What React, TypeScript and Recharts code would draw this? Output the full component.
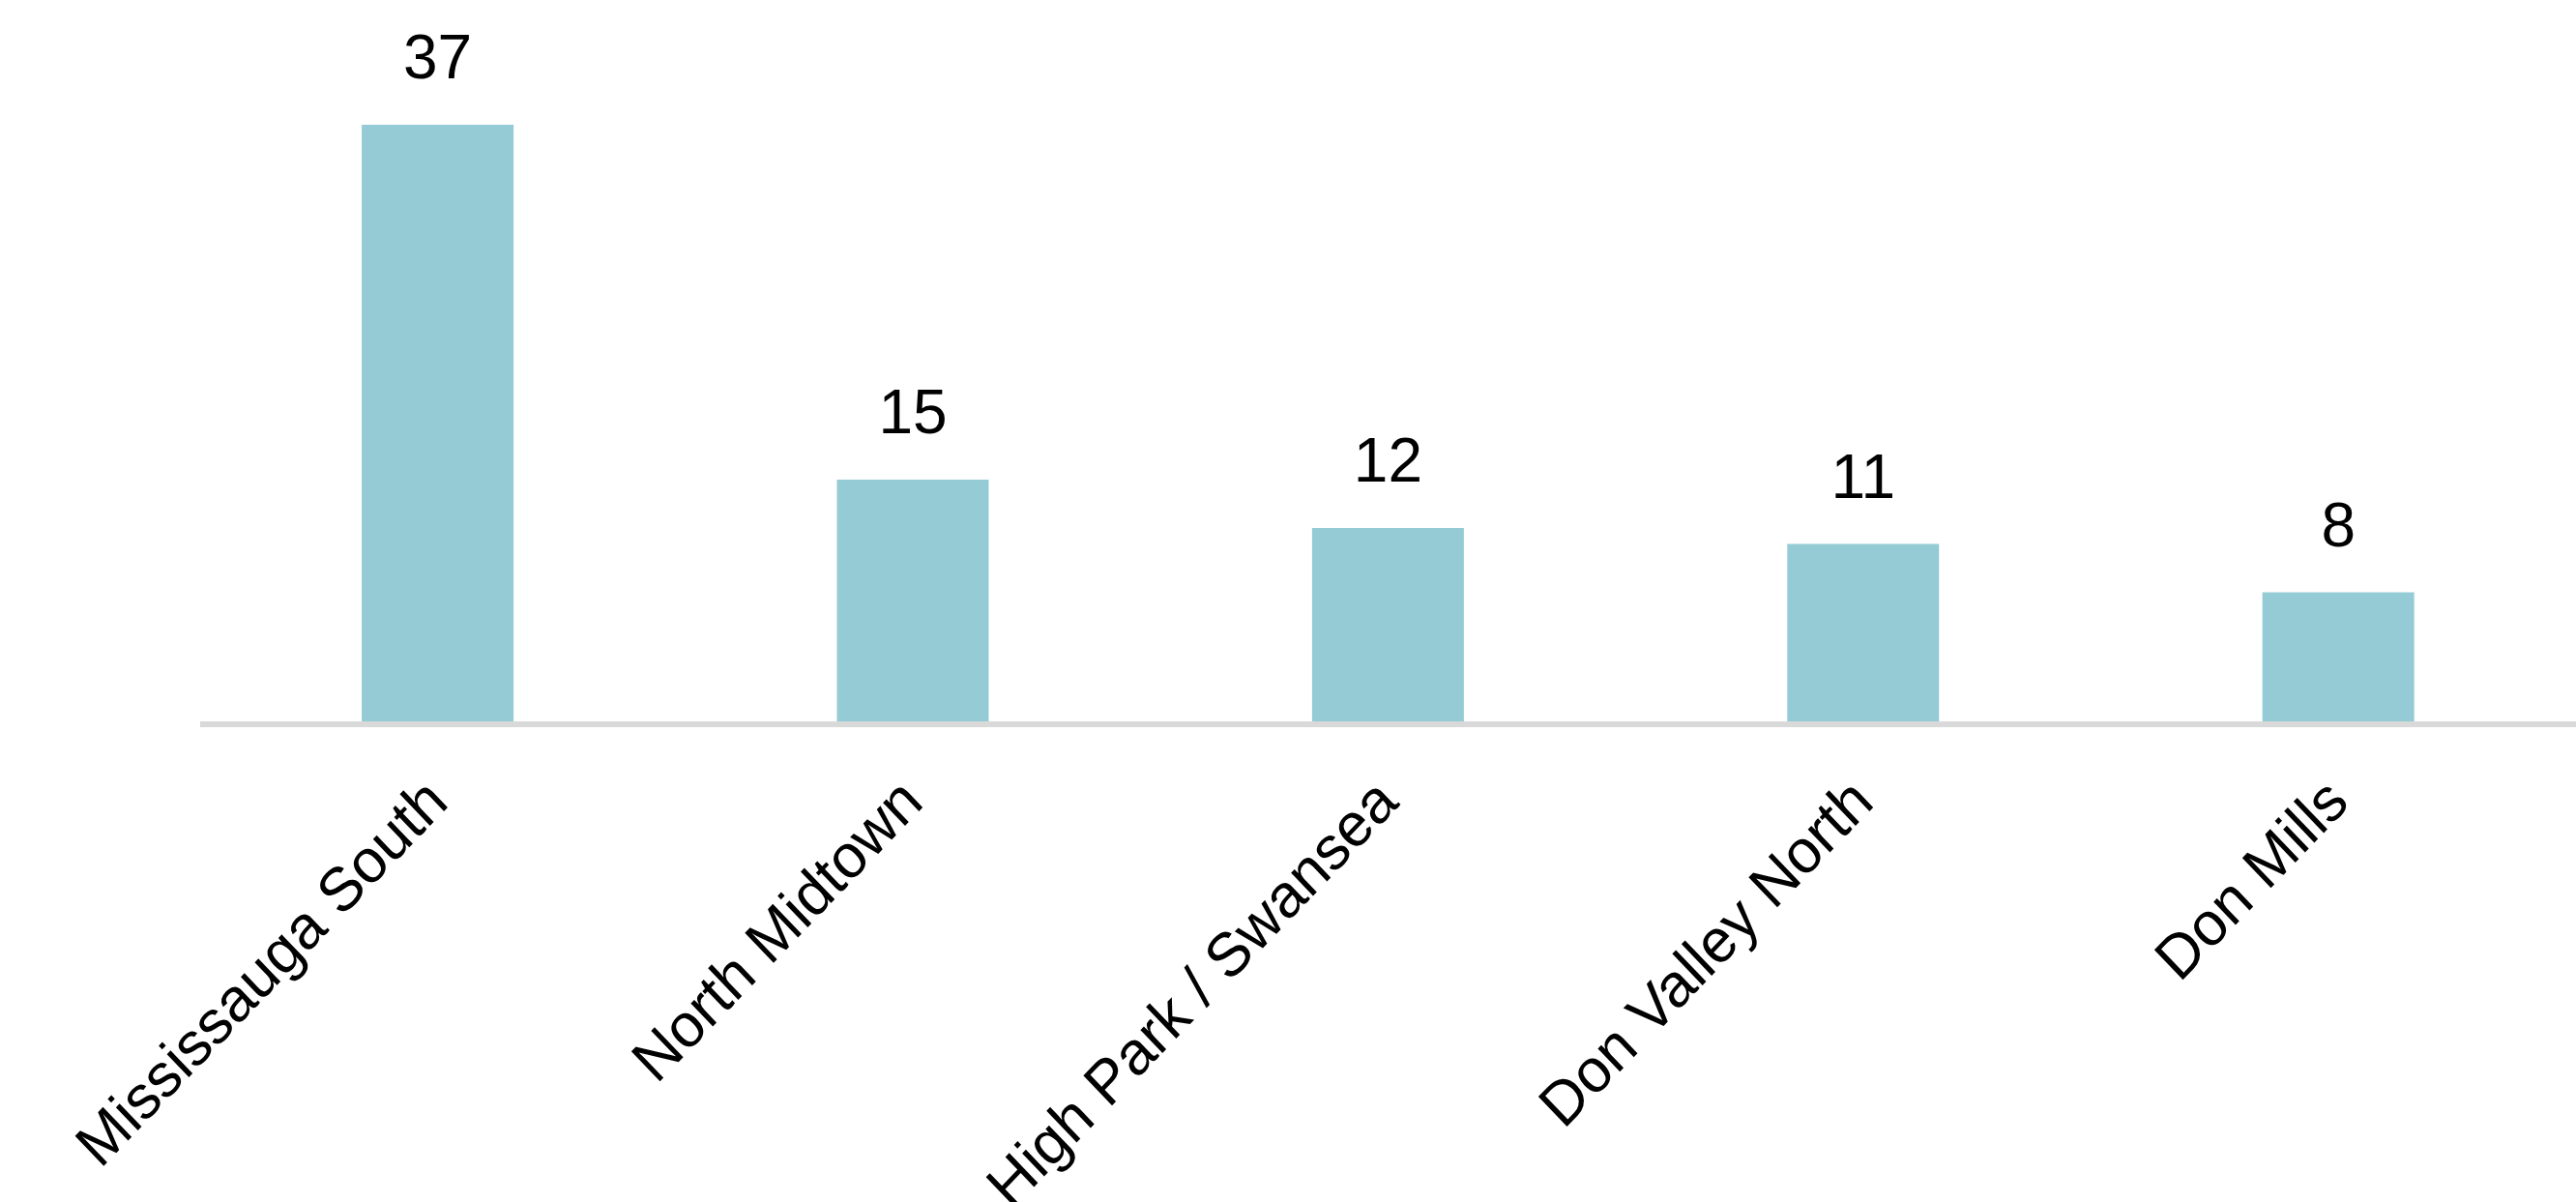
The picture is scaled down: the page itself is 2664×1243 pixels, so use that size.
import React from "react";
import { BarChart, Bar, XAxis, YAxis, LabelList } from "recharts";

const neighbourhoods = [
	"Mississauga South",
	"North Midtown",
	"High Park / Swansea",
	"Don Valley North",
	"Don Mills",
];
const counts = [37, 15, 12, 11, 8];

const data = neighbourhoods.map((name, i) => ({ name, count: counts[i] }));

const FONT = "'Liberation Sans', Arial, sans-serif";

// rotated category label; the source image is slightly stretched vertically,
// so the -45° text gets a small y-scale too
function SlantedTick(props: any) {
	const { x, y, payload } = props;
	const ax = x + 13;
	const ay = y + 86;
	return (
		<g transform={`translate(${ax} ${ay}) scale(1 1.043) rotate(-45)`}>
			<text
				x={0}
				y={0}
				textAnchor="end"
				fontFamily={FONT}
				fontSize={61}
				fill="#000"
			>
				{payload.value}
			</text>
		</g>
	);
}

export default function App() {
	return (
		<div style={{ position: "absolute", left: 0, top: 0, background: "#fff" }}>
			<BarChart
				width={2664}
				height={1243}
				data={data}
				margin={{ top: 79, right: 0, bottom: 0, left: 207 }}
				barCategoryGap="34%"
			>
				<XAxis
					dataKey="name"
					height={497}
					interval={0}
					tickSize={0}
					tickMargin={0}
					tickLine={false}
					axisLine={{ stroke: "#d9d9d9", strokeWidth: 6, transform: "translate(0 3)" }}
					tick={<SlantedTick />}
				/>
				<YAxis hide domain={[0, 40]} />
				<Bar dataKey="count" fill="#95cbd4" isAnimationActive={false}>
					<LabelList
						dataKey="count"
						position="top"
						offset={48}
						fontFamily={FONT}
						fontSize={64}
						fill="#000"
					/>
				</Bar>
			</BarChart>
		</div>
	);
}
